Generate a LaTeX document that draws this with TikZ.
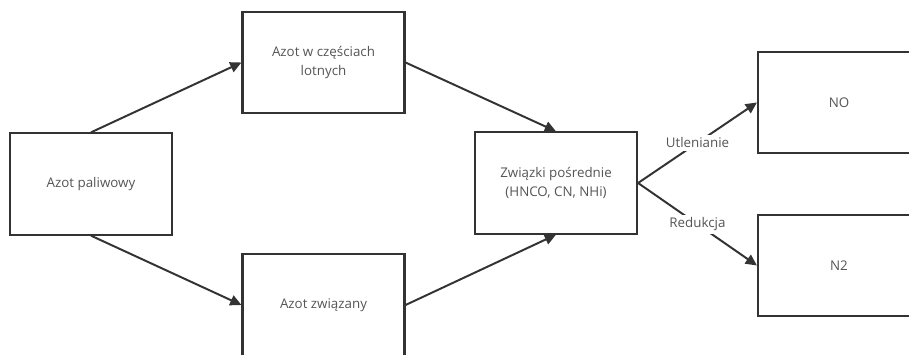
\documentclass[tikz,border=0pt]{standalone}
\usepackage{fontspec}
\setmainfont{Open Sans}
\usepackage{tikz}
\usetikzlibrary{positioning,arrows.meta}
\usepackage{xcolor}
\definecolor{nline}{HTML}{333333}
\definecolor{ntext}{HTML}{555555}

\begin{document}
\begin{tikzpicture}[
    box/.style={draw=nline, line width=1.5pt, fill=white, minimum width=4.05cm, minimum height=2.53cm, align=center, font=\fontsize{9.5}{13}\selectfont, text=ntext, inner sep=4pt},
    arrow/.style={-{Triangle[length=8pt,width=7.5pt]}, line width=1.4pt, draw=nline},
    lbl/.style={font=\fontsize{9.5}{11}\selectfont, text=ntext, fill=white, inner sep=2pt},
]
\path[use as bounding box, clip] (0,0) rectangle (22.725,8.85);

\node[box] (fuel) at (2.275,4.25) {Azot paliwowy};
\node[box] (volatile) at (8.0875,7.2875) {Azot w częściach\\lotnych};
\node[box] (bound) at (8.0875,1.225) {Azot związany};
\node[box] (inter) at (13.9,4.275) {Związki pośrednie\\(HNCO, CN, NHi)};
\node[box] (no) at (20.975,6.2875) {NO};
\node[box] (ntwo) at (20.975,2.2125) {N2};

\draw[arrow] (fuel.north) -- (volatile.west);
\draw[arrow] (fuel.south) -- (bound.west);
\draw[arrow] (volatile.east) -- (inter.north);
\draw[arrow] (bound.east) -- (inter.south);

% Products
\draw[arrow] (inter.east) -- node[lbl] {Utlenianie} (no.west);
\draw[arrow] (inter.east) -- node[lbl] {Redukcja} (ntwo.west);

\end{tikzpicture}
\end{document}
